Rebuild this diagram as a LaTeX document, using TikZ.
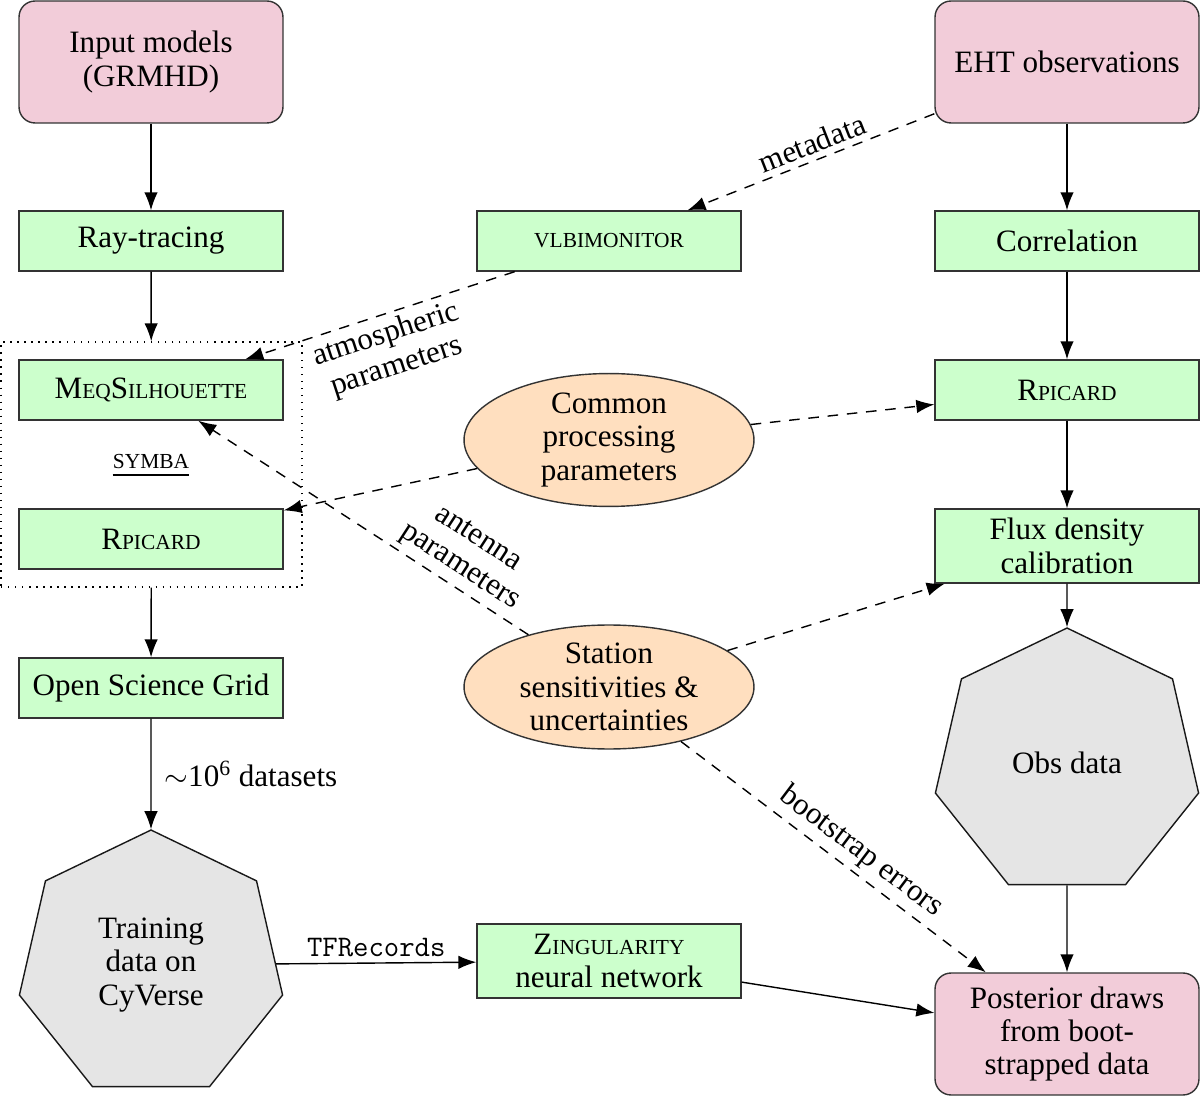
\documentclass[tikz,border=0pt]{standalone}
\usepackage{fontspec}
\setmainfont{Liberation Serif}
\usetikzlibrary{shapes.geometric,arrows.meta,fit}
\newcommand\mysc[1]{{\fontsize{12.2}{12.2}\selectfont #1}}
\begin{document}
\begin{tikzpicture}[x=0.02cm,y=-0.02cm,
  font=\fontsize{17.7}{19}\selectfont,
  gbox/.style={draw=black!80, fill=green!20, line width=0.8pt, minimum width=5.28cm, minimum height=1.2cm, inner sep=2pt, align=center},
  pbox/.style={draw=black!80, fill=purple!20, line width=0.8pt, rounded corners=0.32cm, minimum width=5.28cm, minimum height=2.44cm, inner sep=2pt, align=center},
  ellbox/.style={ellipse, draw=black!80, fill=orange!25, line width=0.8pt, minimum width=5.8cm, minimum height=2.48cm, inner sep=0pt, align=center},
  hept/.style={regular polygon, regular polygon sides=7, draw=black!90, fill=gray!20, line width=0.8pt, minimum size=5.4cm, inner sep=0pt, align=center},
  arr/.style={-{Latex[length=3.6mm,width=2.7mm]}, line width=0.8pt},
  dsh/.style={arr, dash pattern=on 6pt off 5pt},
  lbl/.style={font=\fontsize{17.7}{19}\selectfont, align=center}
]
\useasboundingbox (0,0) rectangle (1200,1097);

% left column
\node[pbox] (inp) at (151,62) {Input models\\(GRMHD)};
\node[gbox] (ray) at (151,241) {Ray-tracing};
\node[gbox] (meq) at (151,390) {M\mysc{EQ}S\mysc{ILHOUETTE}};
\node[inner sep=0pt] (symba) at (151,462) {\mysc{SYMBA}};
\draw[line width=1.1pt] ([yshift=-3.6pt]symba.base west) -- ([yshift=-3.6pt]symba.base east);
\node[gbox] (rpl) at (151,539) {R\mysc{PICARD}};
\node[draw, line width=0.8pt, dash pattern=on 0.8pt off 3.2pt, inner sep=0pt, fit={(1,342) (302,587)}] (symbox) {};
\node[gbox] (osg) at (151,688) {Open Science Grid};
\node[hept] (train) at (151,965) {Training\\data on\\CyVerse};

% middle column
\node[gbox] (vlbi) at (609,241) {\mysc{VLBIMONITOR}};
\node[ellbox] (cpp) at (609,440) {Common\\processing\\parameters};
\node[ellbox] (ssu) at (609,687) {Station\\sensitivities \&\\uncertainties};
\node[gbox, minimum height=1.48cm] (zing) at (609,961) {Z\mysc{INGULARITY}\\neural network};

% right column
\node[pbox] (eht) at (1067,62) {EHT observations};
\node[gbox] (corr) at (1067,241) {Correlation};
\node[gbox] (rpr) at (1067,390) {R\mysc{PICARD}};
\node[gbox, minimum height=1.48cm] (flux) at (1067,546) {Flux density\\calibration};
\node[hept] (obs) at (1067,763) {Obs data};
\node[pbox] (post) at (1067,1034) {Posterior draws\\from boot-\\strapped data};

% solid arrows
\draw[arr] (inp) -- (ray);
\draw[arr] (ray) -- (symbox);
\draw[arr] (symbox) -- (osg);
\draw[arr] (osg) -- node[right, xshift=4pt] {$\sim$10\textsuperscript{6} datasets} (train);
\draw[arr] (train) -- node[above] {\fontsize{17}{18}\selectfont\ttfamily TFRecords} (zing);
\draw[arr] (zing) -- (post);
\draw[arr] (eht) -- (corr);
\draw[arr] (corr) -- (rpr);
\draw[arr] (rpr) -- (flux);
\draw[arr] (flux) -- (obs);
\draw[arr] (obs) -- (post);

% dashed arrows
\draw[dsh] (eht) -- node[above, sloped, pos=0.47] {metadata} (vlbi);
\draw[dsh] (vlbi) -- node[below, sloped, pos=0.5, lbl] {atmospheric\\parameters} (meq);
\draw[dsh] (cpp) -- (rpr);
\draw[dsh] (cpp) -- (rpl);
\draw[dsh] (ssu) -- node[above, sloped, pos=0.24, lbl] {antenna\\parameters} (meq);
\draw[dsh] (ssu) -- (flux);
\draw[dsh] (ssu) -- node[above, sloped, pos=0.55] {bootstrap errors} (post);
\end{tikzpicture}
\end{document}
